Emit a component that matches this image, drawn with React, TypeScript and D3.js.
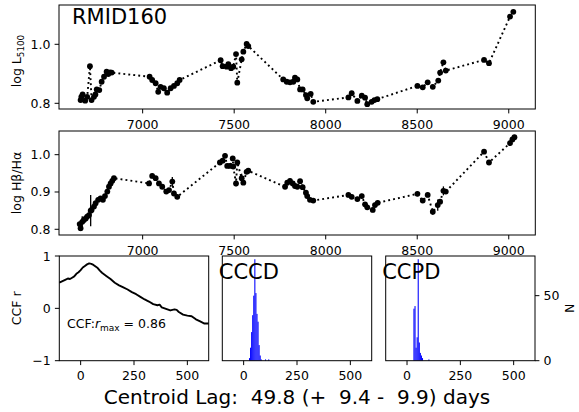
import React from 'react';
import * as d3 from 'd3';

// ---------- data ----------
const contTime = [6661, 6665, 6672, 6686, 6697, 6712, 6721, 6734, 6742, 6749, 6763, 6776, 6789, 6803, 6812, 6822, 6831,
  7038, 7052, 7071, 7085, 7098, 7116, 7134, 7153, 7171, 7189, 7202,
  7426, 7437, 7459, 7468, 7483, 7495, 7510, 7517, 7541, 7550, 7568, 7577,
  7768, 7787, 7805, 7823, 7832, 7845, 7860, 7874, 7892, 7899, 7918, 7932,
  8124, 8142, 8173, 8197, 8215, 8227, 8251, 8266, 8282,
  8501, 8530, 8557, 8585, 8615, 8625, 8643, 8656, 8865, 8892, 9007, 9025];
const contVal = [0.811, 0.822, 0.830, 0.809, 0.822, 0.926, 0.811, 0.822, 0.830, 0.847, 0.845, 0.873, 0.890, 0.907, 0.899, 0.905, 0.904,
  0.890, 0.879, 0.868, 0.839, 0.856, 0.851, 0.836, 0.851, 0.859, 0.868, 0.879,
  0.946, 0.926, 0.924, 0.933, 0.919, 0.924, 0.967, 0.870, 0.949, 0.975, 1.001, 0.994,
  0.881, 0.873, 0.871, 0.873, 0.887, 0.881, 0.847, 0.847, 0.828, 0.817, 0.832, 0.805,
  0.820, 0.834, 0.808, 0.826, 0.819, 0.797, 0.805, 0.811, 0.814,
  0.859, 0.854, 0.871, 0.856, 0.877, 0.904, 0.939, 0.911, 0.947, 0.936, 1.094, 1.110];
const contErr = [0.004, 0.004, 0.004, 0.004, 0.004, 0.006, 0.004, 0.004, 0.004, 0.004, 0.004, 0.004, 0.004, 0.004, 0.004, 0.004, 0.004,
  0.004, 0.004, 0.004, 0.004, 0.004, 0.004, 0.004, 0.004, 0.004, 0.004, 0.004,
  0.004, 0.004, 0.004, 0.004, 0.004, 0.004, 0.006, 0.008, 0.004, 0.004, 0.004, 0.004,
  0.004, 0.004, 0.004, 0.004, 0.004, 0.004, 0.004, 0.004, 0.004, 0.004, 0.004, 0.004,
  0.004, 0.004, 0.004, 0.004, 0.004, 0.004, 0.004, 0.004, 0.004,
  0.004, 0.004, 0.004, 0.004, 0.004, 0.004, 0.005, 0.004, 0.004, 0.004, 0.004, 0.004];

const ratioTime = [6656, 6661, 6670, 6679, 6689, 6697, 6707, 6716, 6721, 6734, 6743, 6757, 6770, 6783, 6794, 6807, 6816, 6825, 6834, 6843,
  7035, 7052, 7071, 7089, 7107, 7129, 7144, 7162, 7171, 7189,
  7422, 7437, 7450, 7462, 7477, 7492, 7495, 7510, 7517, 7541, 7550, 7568, 7577,
  7778, 7790, 7805, 7820, 7832, 7845, 7860, 7874, 7892, 7899, 7914, 7932,
  8124, 8142, 8173, 8197, 8215, 8227, 8257, 8269, 8284,
  8501, 8530, 8557, 8585, 8612, 8625, 8643, 8656, 8865, 8892, 9007, 9020, 9031];
const ratioVal = [0.814, 0.803, 0.820, 0.825, 0.829, 0.834, 0.838, 0.850, 0.852, 0.861, 0.870, 0.879, 0.883, 0.879, 0.889, 0.901, 0.914, 0.923, 0.930, 0.937,
  0.923, 0.943, 0.937, 0.923, 0.914, 0.901, 0.905, 0.928, 0.896, 0.887,
  0.979, 0.984, 0.997, 0.970, 0.970, 0.990, 0.968, 0.923, 0.979, 0.937, 0.925, 0.954, 0.957,
  0.914, 0.925, 0.930, 0.923, 0.916, 0.914, 0.929, 0.913, 0.898, 0.889, 0.879, 0.877,
  0.892, 0.887, 0.881, 0.889, 0.867, 0.859, 0.852, 0.865, 0.871,
  0.895, 0.877, 0.892, 0.847, 0.865, 0.874, 0.903, 0.901, 1.008, 0.979, 1.031, 1.041, 1.047];
const ratioErr = [0.006, 0.008, 0.015, 0.006, 0.006, 0.006, 0.006, 0.042, 0.006, 0.006, 0.006, 0.006, 0.006, 0.006, 0.006, 0.006, 0.006, 0.006, 0.006, 0.006,
  0.006, 0.006, 0.006, 0.006, 0.006, 0.006, 0.006, 0.012, 0.006, 0.006,
  0.006, 0.006, 0.006, 0.006, 0.006, 0.006, 0.006, 0.008, 0.006, 0.012, 0.006, 0.006, 0.006,
  0.006, 0.006, 0.006, 0.006, 0.006, 0.006, 0.006, 0.006, 0.006, 0.006, 0.006, 0.006,
  0.006, 0.006, 0.006, 0.006, 0.006, 0.006, 0.006, 0.006, 0.006,
  0.006, 0.006, 0.006, 0.008, 0.015, 0.006, 0.012, 0.006, 0.006, 0.006, 0.008, 0.006, 0.006];

const ccfLag = [-100, -90, -80, -70, -60, -50, -40, -30, -20, -10, 0, 10, 20, 30, 40, 50, 60, 70, 80, 90, 100,
  120, 140, 160, 180, 200, 220, 240, 260, 280, 300, 320, 340, 360, 370, 380, 400, 420, 440, 450, 460, 480, 500, 520, 540, 560, 580, 600];
const ccfR = [0.49, 0.51, 0.53, 0.55, 0.57, 0.56, 0.585, 0.61, 0.66, 0.69, 0.73, 0.78, 0.81, 0.84, 0.86, 0.85, 0.83, 0.80, 0.77, 0.72, 0.68,
  0.62, 0.56, 0.49, 0.44, 0.40, 0.36, 0.31, 0.27, 0.22, 0.17, 0.13, 0.08, 0.06, 0.07, 0.02, -0.01, -0.04, -0.02, -0.03, -0.07, -0.12, -0.14, -0.15, -0.21, -0.25, -0.29, -0.29];

const cccdBin = [25, 30, 35, 40, 45, 50, 55, 60, 65, 70, 75, 80, 100, 115];
const cccdCount = [2, 10, 22, 35, 50, 78, 52, 36, 30, 12, 4, 1, 1, 1];
const ccpdBin = [30, 35, 40, 45, 50, 55, 60, 65, 70, 100];
const ccpdCount = [40, 42, 10, 18, 78, 14, 6, 4, 2, 1];
const binWidth = 5;

const timeTicks = [7000, 7500, 8000, 8500, 9000];
const contTicks = [0.8, 1.0];
const ratioTicks = [0.8, 0.9, 1.0];
const lagTicks = [0, 250, 500];
const rTicks = [-1, 0, 1];
const nTicks = [0, 50];

// ---------- layout ----------
const FONT = 'DejaVu Sans, sans-serif';
const TICK = 4.4;
const FS = 12.5;
const X0 = 59, X1 = 535.3;
const timeScale = d3.scaleLinear().domain([6543, 9145]).range([X0, X1]);

function LightCurve({ t, v, e, y0, y1, domain, ticks, fmt }: any) {
  const y = d3.scaleLinear().domain(domain).range([y1, y0]);
  const pts = t.map((tt: number, i: number) => [timeScale(tt), y(v[i])] as [number, number]);
  const line = d3.line()(pts);
  return (
    <g>
      <rect x={X0} y={y0} width={X1 - X0} height={y1 - y0} fill="white" />
      <path d={line || ''} fill="none" stroke="black" strokeWidth={1.9} strokeDasharray="1.9,3.1" />
      {t.map((tt: number, i: number) => (
        <line key={'e' + i} x1={timeScale(tt)} x2={timeScale(tt)} y1={y(v[i] - e[i])} y2={y(v[i] + e[i])} stroke="black" strokeWidth={1.3} />
      ))}
      {pts.map((p: [number, number], i: number) => (
        <circle key={'p' + i} cx={p[0]} cy={p[1]} r={2.9} fill="black" />
      ))}
      <rect x={X0} y={y0} width={X1 - X0} height={y1 - y0} fill="none" stroke="black" strokeWidth={1} />
      {ticks.map((tk: number) => (
        <g key={'yt' + tk}>
          <line x1={X0 - TICK} x2={X0} y1={y(tk)} y2={y(tk)} stroke="black" strokeWidth={1} />
          <text x={X0 - 8.5} y={y(tk) + 4.5} textAnchor="end" fontSize={FS} fontFamily={FONT}>{fmt(tk)}</text>
        </g>
      ))}
      {timeTicks.map((tk) => (
        <g key={'xt' + tk}>
          <line x1={timeScale(tk)} x2={timeScale(tk)} y1={y1} y2={y1 + TICK} stroke="black" strokeWidth={1} />
          <text x={timeScale(tk)} y={y1 + 20} textAnchor="middle" fontSize={FS} fontFamily={FONT}>{tk}</text>
        </g>
      ))}
    </g>
  );
}

const B0 = 256, B1 = 360.7;
const lagDomain = [-100, 600];

function LagAxis({ x }: any) {
  return (
    <g>
      {lagTicks.map((tk) => (
        <g key={'lt' + tk}>
          <line x1={x(tk)} x2={x(tk)} y1={B1} y2={B1 + TICK} stroke="black" strokeWidth={1} />
          <text x={x(tk)} y={B1 + 19.5} textAnchor="middle" fontSize={FS} fontFamily={FONT}>{tk}</text>
        </g>
      ))}
    </g>
  );
}

function Hist({ xa, xb, bins, counts, title, rightAxis }: any) {
  const x = d3.scaleLinear().domain(lagDomain).range([xa, xb]);
  const y = d3.scaleLinear().domain([0, 80.5]).range([B1, B0]);
  return (
    <g>
      <rect x={xa} y={B0} width={xb - xa} height={B1 - B0} fill="white" />
      {bins.map((b: number, i: number) => (
        <rect key={'b' + i} x={x(b)} y={y(counts[i])} width={x(b + binWidth) - x(b)} height={B1 - y(counts[i])} fill="#0000ff" />
      ))}
      <rect x={xa} y={B0} width={xb - xa} height={B1 - B0} fill="none" stroke="black" strokeWidth={1} />
      <LagAxis x={x} />
      <text x={xa - 3.5} y={278.5} fontSize={21} fontFamily={FONT}>{title}</text>
      {rightAxis && (
        <g>
          {nTicks.map((tk) => (
            <g key={'n' + tk}>
              <line x1={xb} x2={xb + TICK} y1={y(tk)} y2={y(tk)} stroke="black" strokeWidth={1} />
              <text x={xb + 8.5} y={y(tk) + 4.5} fontSize={FS} fontFamily={FONT}>{tk}</text>
            </g>
          ))}
          <text transform={`translate(${xb + 39},${(B0 + B1) / 2}) rotate(-90)`} textAnchor="middle" fontSize={FS} fontFamily={FONT}>N</text>
        </g>
      )}
    </g>
  );
}

function CCF() {
  const xa = 59.3, xb = 208.7;
  const x = d3.scaleLinear().domain(lagDomain).range([xa, xb]);
  const y = d3.scaleLinear().domain([-1, 1]).range([B1, B0]);
  const line = d3.line()(ccfLag.map((l, i) => [x(l), y(ccfR[i])] as [number, number]));
  return (
    <g>
      <rect x={xa} y={B0} width={xb - xa} height={B1 - B0} fill="white" />
      <path d={line || ''} fill="none" stroke="black" strokeWidth={1.9} strokeLinejoin="round" />
      <rect x={xa} y={B0} width={xb - xa} height={B1 - B0} fill="none" stroke="black" strokeWidth={1} />
      {rTicks.map((tk) => (
        <g key={'r' + tk}>
          <line x1={xa - TICK} x2={xa} y1={y(tk)} y2={y(tk)} stroke="black" strokeWidth={1} />
          <text x={xa - 8.5} y={y(tk) + 4.5} textAnchor="end" fontSize={FS} fontFamily={FONT}>{tk < 0 ? '\u2212' + Math.abs(tk) : tk}</text>
        </g>
      ))}
      <LagAxis x={x} />
      <text x={67} y={328} fontSize={FS} fontFamily={FONT}>
        CCF:<tspan fontStyle="italic">r</tspan><tspan fontSize={9} dy={3}>max</tspan><tspan dy={-3}> = 0.86</tspan>
      </text>
      <text transform={`translate(21,${(B0 + B1) / 2}) rotate(-90)`} textAnchor="middle" fontSize={FS} fontFamily={FONT}>CCF r</text>
    </g>
  );
}

export default function App() {
  return (
    <svg width={579} height={412} style={{ position: 'absolute', left: 0, top: 0, background: 'white' }}>
      <rect x={0} y={0} width={579} height={412} fill="white" />
      <LightCurve t={contTime} v={contVal} e={contErr} y0={5} y1={109} domain={[0.7807, 1.1332]} ticks={contTicks} fmt={(d: number) => d.toFixed(1)} />
      <text x={72} y={23.5} fontSize={21} fontFamily={FONT}>RMID160</text>
      <text transform={`translate(21,61) rotate(-90)`} textAnchor="middle" fontSize={FS} fontFamily={FONT}>
        log L<tspan fontSize={8.8} dy={3}>5100</tspan>
      </text>
      <LightCurve t={ratioTime} v={ratioVal} e={ratioErr} y0={131} y1={235} domain={[0.7847, 1.0635]} ticks={ratioTicks} fmt={(d: number) => d.toFixed(1)} />
      <text transform={`translate(21,183) rotate(-90)`} textAnchor="middle" fontSize={FS} fontFamily={FONT}>log Hβ/Hα</text>
      <CCF />
      <Hist xa={222.3} xb={371.7} bins={cccdBin} counts={cccdCount} title="CCCD" rightAxis={false} />
      <Hist xa={385.7} xb={535} bins={ccpdBin} counts={ccpdCount} title="CCPD" rightAxis={true} />
      <text x={297} y={404} textAnchor="middle" fontSize={20} fontFamily={FONT} style={{ whiteSpace: 'pre' }}>
        {'Centroid Lag:  49.8 (+  9.4 -  9.9) days'}
      </text>
    </svg>
  );
}
